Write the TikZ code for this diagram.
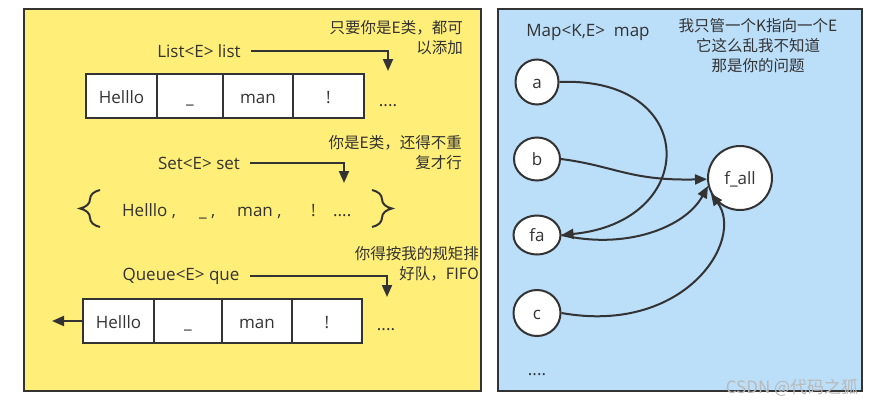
\documentclass[tikz,border=0pt]{standalone}
\usepackage{fontspec}
\setmainfont{Open Sans}
\newfontfamily\cjk{Noto Sans CJK SC}
\usetikzlibrary{arrows.meta,shapes.geometric,decorations.pathreplacing}
\definecolor{ink}{HTML}{333333}
\definecolor{yel}{HTML}{FFEE77}
\definecolor{blu}{HTML}{BBDEF9}
\begin{document}
\begin{tikzpicture}[x=1pt,y=-1pt,
  every node/.style={text=ink},
  lat/.style={font=\fontsize{17}{20}\selectfont, inner sep=0},
  note/.style={font=\cjk\fontsize{15.5}{20}\selectfont, inner sep=0},
  panel/.style={draw=ink, line width=2pt},
  cell/.style={draw=ink, line width=2pt, fill=white, minimum height=44pt, inner sep=0, text height=14pt, text depth=0pt, font=\fontsize{17}{20}\selectfont},
  arr/.style={draw=ink, line width=2pt, -{Triangle[length=12pt,width=10pt]}},
  key/.style={ellipse, draw=ink, line width=2pt, fill=white, inner sep=0, text height=13pt, text depth=1pt, font=\fontsize{17}{20}\selectfont},
  brc/.style={draw=ink, line width=2pt, decorate, decoration={brace, amplitude=20pt}}]
\useasboundingbox (0,0) rectangle (883,407);
% panels
\path[panel, fill=yel] (24,9) rectangle (481,391);
\path[panel, fill=blu] (498,9) rectangle (862,391);

% ---- List ----
\node[lat] (listlbl) at (199,51) {List<E> list};
\coordinate (listtip) at (388,71);
\draw[arr] ([xshift=10pt]listlbl.east) -| (listtip);
\node[note, anchor=north east, align=right] (note1) at (463,20) {只要你是E类，都可\\以添加};
\node[cell, minimum width=71pt] (l1) at (121.5,96) {Helllo};
\node[cell, minimum width=66pt] (l2) at (190,96) {\_};
\node[cell, minimum width=70pt] (l3) at (258,96) {man};
\node[cell, minimum width=71pt] (l4) at (328.5,96) {!};
\node[lat, anchor=base] (ldots) at (388,106) {....};

% ---- Set ----
\node[lat] (setlbl) at (199,163) {Set<E> set};
\coordinate (settip) at (344,183);
\draw[arr] ([xshift=10pt]setlbl.east) -| (settip);
\node[note, anchor=north east, align=right] (note2) at (462,135) {你是E类，还得不重\\复才行};
\coordinate (lb1) at (100,227);
\coordinate (lb2) at (100,190);
\coordinate (rb1) at (372,190);
\coordinate (rb2) at (372,227);
\draw[brc] (lb1) -- (lb2);
\draw[brc] (rb1) -- (rb2);
\node[lat, anchor=base west] (s1) at (122,216) {Helllo ,};
\node[lat, anchor=base west] (s2) at (199,216) {\_ ,};
\node[lat, anchor=base west] (s3) at (237,216) {man ,};
\node[lat, anchor=base west] (s4) at (311,216) {!};
\node[lat, anchor=base west] (s5) at (333,216) {....};

% ---- Queue ----
\node[lat] (quelbl) at (181,276) {Queue<E> que};
\coordinate (quetip) at (387,297);
\draw[arr] ([xshift=10pt]quelbl.east) -| (quetip);
\node[note, anchor=north east, align=right] (note3) at (479,246) {你得按我的规矩排\\好队，FIFO};
\node[cell, minimum width=71pt] (q1) at (118.5,321) {Helllo};
\node[cell, minimum width=68pt] (q2) at (188,321) {\_};
\node[cell, minimum width=70pt] (q3) at (257,321) {man};
\node[cell, minimum width=70pt] (q4) at (327,321) {!};
\node[lat, anchor=base] (qdots) at (386,330) {....};
\coordinate (qout) at (52,321);
\draw[arr] (q1.west) -- (qout);

% ---- Map ----
\node[lat] (maplbl) at (588,32) {Map<K,E>\ \ map};
\node[note, anchor=north, align=center] (note4) at (758,18) {我只管一个K指向一个E\\它这么乱我不知道\\那是你的问题};
\node[key, minimum width=43pt, minimum height=45pt] (a) at (537,82) {a};
\node[key, minimum width=46pt, minimum height=43pt] (b) at (537,159) {b};
\node[key, minimum width=47pt, minimum height=39pt] (fa) at (537,235) {fa};
\node[key, minimum width=47pt, minimum height=46pt] (c) at (537,313) {c};
\node[key, minimum width=64pt, minimum height=64pt] (fall) at (740,178) {f\_all};
\node[lat, anchor=base] (mdots) at (537,375) {....};

\draw[arr] (a.east) .. controls (700,76) and (700,222) .. (fa.east);
\draw[arr] (b.east) .. controls (615,166) and (630,181) .. (fall.182);
\draw[arr] (fa.east) .. controls (625,250) and (685,228) .. (fall.194);
\draw[arr] (c.east) .. controls (685,335) and (745,240) .. (fall.208);

\node[font=\cjk\fontsize{17}{20}\selectfont, text=gray!55] (wm) at (792,388) {CSDN @代码之狐};
\end{tikzpicture}
\end{document}
